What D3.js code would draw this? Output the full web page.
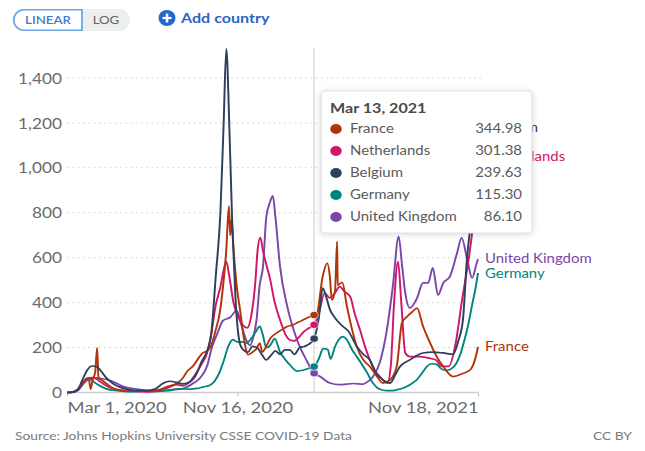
<!DOCTYPE html>
<html><head><meta charset="utf-8">
<script src="https://cdn.jsdelivr.net/npm/d3@7"></script>
<style>
html,body{margin:0;padding:0;background:#fff;overflow:hidden;}
svg{display:block;font-family:Lato,"Noto Sans",sans-serif;}
</style></head><body>
<svg id="chart" width="645" height="451"></svg>
<script>
// ---------- DATA ----------
const categories = ["France","Netherlands","Belgium","Germany","United Kingdom"];
const yTicks = [0,200,400,600,800,1000,1200,1400];
const xTickDates = ["2020-03-01","2020-11-16","2021-11-18"];
const xTickLabels = ["Mar 1, 2020","Nov 16, 2020","Nov 18, 2021"];
const hoverDate = "2021-03-13";
const hoverLabel = "Mar 13, 2021";
const hoverValues = [344.98,301.38,239.63,115.30,86.10];

const france = [["2020-03-01",0],["2020-03-10",3],["2020-03-18",15],["2020-03-25",45],["2020-03-31",62],["2020-04-03",65],["2020-04-06",15],["2020-04-09",55],["2020-04-13",90],["2020-04-16",199],["2020-04-18",68],["2020-04-23",55],["2020-04-30",40],["2020-05-10",20],["2020-05-20",10],["2020-06-01",6],["2020-06-15",6],["2020-07-01",7],["2020-07-15",10],["2020-07-25",15],["2020-08-05",25],["2020-08-15",40],["2020-08-25",65],["2020-08-31",93],["2020-09-10",120],["2020-09-17",150],["2020-09-24",176],["2020-10-01",185],["2020-10-07",210],["2020-10-14",280],["2020-10-20",354],["2020-10-25",471],["2020-10-30",635],["2020-11-03",830],["2020-11-05",700],["2020-11-07",770],["2020-11-10",640],["2020-11-15",471],["2020-11-20",368],["2020-11-27",221],["2020-12-02",168],["2020-12-09",180],["2020-12-15",195],["2020-12-20",220],["2020-12-24",180],["2020-12-29",200],["2021-01-05",240],["2021-01-15",265],["2021-01-23",280],["2021-01-31",294],["2021-02-08",300],["2021-02-15",310],["2021-02-22",320],["2021-03-02",332],["2021-03-07",338],["2021-03-13",345],["2021-03-17",350],["2021-03-26",516],["2021-04-02",576],["2021-04-06",516],["2021-04-09",412],["2021-04-14",456],["2021-04-17",672],["2021-04-18",478],["2021-04-25",490],["2021-05-02",383],["2021-05-10",279],["2021-05-17",205],["2021-05-27",145],["2021-06-06",116],["2021-06-17",71],["2021-06-26",42],["2021-07-07",56],["2021-07-17",116],["2021-07-25",310],["2021-08-02",338],["2021-08-10",360],["2021-08-17",376],["2021-08-26",296],["2021-09-06",220],["2021-09-16",160],["2021-09-26",116],["2021-10-11",71],["2021-10-26",85],["2021-11-06",100],["2021-11-16",176],["2021-11-18",203]];

const netherlands = [["2020-03-01",0],["2020-03-10",2],["2020-03-18",15],["2020-03-25",45],["2020-04-01",62],["2020-04-08",66],["2020-04-15",60],["2020-04-22",45],["2020-04-30",30],["2020-05-10",17],["2020-05-20",12],["2020-06-01",9],["2020-06-15",5],["2020-07-01",3],["2020-07-15",5],["2020-07-25",18],["2020-08-05",30],["2020-08-15",35],["2020-08-25",30],["2020-09-05",50],["2020-09-15",90],["2020-09-22",125],["2020-09-30",170],["2020-10-07",260],["2020-10-14",390],["2020-10-21",470],["2020-10-26",545],["2020-10-30",583],["2020-11-04",510],["2020-11-10",400],["2020-11-17",338],["2020-11-24",300],["2020-12-01",288],["2020-12-07",340],["2020-12-13",480],["2020-12-17",640],["2020-12-21",690],["2020-12-25",630],["2020-12-31",560],["2021-01-04",516],["2021-01-12",400],["2021-01-20",323],["2021-01-28",260],["2021-02-04",234],["2021-02-11",230],["2021-02-19",250],["2021-02-25",270],["2021-03-04",285],["2021-03-13",301],["2021-03-20",350],["2021-03-29",443],["2021-04-06",421],["2021-04-13",440],["2021-04-21",471],["2021-04-28",450],["2021-05-07",427],["2021-05-14",350],["2021-05-22",279],["2021-05-29",210],["2021-06-06",145],["2021-06-13",100],["2021-06-21",71],["2021-07-03",42],["2021-07-08",120],["2021-07-13",400],["2021-07-19",583],["2021-07-24",400],["2021-07-30",176],["2021-08-06",160],["2021-08-20",160],["2021-09-01",155],["2021-09-15",145],["2021-09-24",116],["2021-10-04",116],["2021-10-15",220],["2021-10-24",398],["2021-11-05",620],["2021-11-09",710],["2021-11-18",1050]];

const belgium = [["2020-03-01",0],["2020-03-10",2],["2020-03-18",15],["2020-03-25",60],["2020-04-01",100],["2020-04-08",118],["2020-04-15",115],["2020-04-22",95],["2020-04-30",65],["2020-05-10",40],["2020-05-20",25],["2020-06-01",15],["2020-06-15",9],["2020-07-01",8],["2020-07-15",18],["2020-07-25",40],["2020-08-05",50],["2020-08-15",45],["2020-08-25",38],["2020-09-05",48],["2020-09-15",85],["2020-09-22",135],["2020-09-30",180],["2020-10-07",260],["2020-10-14",520],["2020-10-21",800],["2020-10-26",1200],["2020-10-30",1530],["2020-11-04",1150],["2020-11-08",760],["2020-11-13",420],["2020-11-20",215],["2020-11-25",190],["2020-12-02",180],["2020-12-09",205],["2020-12-16",200],["2020-12-23",170],["2020-12-30",145],["2021-01-06",165],["2021-01-13",185],["2021-01-20",170],["2021-01-27",190],["2021-02-04",190],["2021-02-11",170],["2021-02-19",200],["2021-02-26",205],["2021-03-05",215],["2021-03-13",240],["2021-03-20",330],["2021-03-26",465],["2021-04-01",420],["2021-04-06",370],["2021-04-12",340],["2021-04-17",320],["2021-04-26",294],["2021-05-05",270],["2021-05-17",205],["2021-05-27",170],["2021-06-06",145],["2021-06-15",90],["2021-06-26",56],["2021-07-07",42],["2021-07-15",80],["2021-07-22",116],["2021-08-06",145],["2021-08-26",176],["2021-09-10",180],["2021-09-26",176],["2021-10-11",170],["2021-10-19",230],["2021-10-26",323],["2021-11-01",590],["2021-11-09",800],["2021-11-14",960],["2021-11-18",1180]];

const germany = [["2020-03-01",0],["2020-03-10",1],["2020-03-18",15],["2020-03-25",45],["2020-04-01",62],["2020-04-06",58],["2020-04-12",45],["2020-04-20",30],["2020-04-30",16],["2020-05-10",10],["2020-05-20",7],["2020-06-01",4],["2020-06-15",4],["2020-06-22",6],["2020-07-01",5],["2020-07-15",5],["2020-08-01",8],["2020-08-15",14],["2020-08-25",16],["2020-09-05",15],["2020-09-15",18],["2020-09-25",25],["2020-10-05",32],["2020-10-12",50],["2020-10-19",85],["2020-10-26",140],["2020-11-02",205],["2020-11-09",235],["2020-11-16",225],["2020-11-23",225],["2020-11-30",220],["2020-12-07",240],["2020-12-14",270],["2020-12-20",294],["2020-12-24",265],["2020-12-30",200],["2021-01-05",210],["2021-01-12",240],["2021-01-20",180],["2021-01-27",150],["2021-02-05",120],["2021-02-15",95],["2021-02-25",100],["2021-03-07",110],["2021-03-13",115],["2021-03-20",150],["2021-03-27",195],["2021-04-03",190],["2021-04-07",150],["2021-04-14",205],["2021-04-21",240],["2021-04-26",249],["2021-05-02",235],["2021-05-10",190],["2021-05-17",160],["2021-06-02",87],["2021-06-10",45],["2021-06-17",22],["2021-06-25",11],["2021-07-03",8],["2021-07-10",8],["2021-07-17",12],["2021-07-25",18],["2021-08-02",28],["2021-08-10",42],["2021-08-17",58],["2021-08-25",88],["2021-09-01",116],["2021-09-08",128],["2021-09-16",125],["2021-09-23",105],["2021-10-01",98],["2021-10-08",105],["2021-10-16",130],["2021-10-22",170],["2021-10-28",230],["2021-11-03",300],["2021-11-09",390],["2021-11-14",460],["2021-11-18",532]];

const unitedKingdom = [["2020-03-01",0],["2020-03-10",2],["2020-03-18",10],["2020-03-25",35],["2020-04-01",55],["2020-04-08",62],["2020-04-15",65],["2020-04-22",62],["2020-04-30",58],["2020-05-07",52],["2020-05-15",42],["2020-05-25",28],["2020-06-05",20],["2020-06-15",15],["2020-07-01",10],["2020-07-15",9],["2020-08-01",11],["2020-08-15",15],["2020-08-25",18],["2020-09-09",40],["2020-09-20",65],["2020-10-01",120],["2020-10-08",200],["2020-10-16",260],["2020-10-25",320],["2020-11-05",335],["2020-11-15",365],["2020-11-22",300],["2020-11-30",230],["2020-12-05",210],["2020-12-10",245],["2020-12-15",320],["2020-12-20",480],["2020-12-25",560],["2020-12-30",780],["2021-01-05",850],["2021-01-09",875],["2021-01-13",780],["2021-01-20",560],["2021-01-31",383],["2021-02-15",234],["2021-03-02",140],["2021-03-11",93],["2021-03-13",86],["2021-03-22",71],["2021-04-06",42],["2021-04-21",35],["2021-05-12",40],["2021-05-27",37],["2021-06-01",45],["2021-06-11",71],["2021-06-21",132],["2021-07-02",279],["2021-07-11",471],["2021-07-20",694],["2021-07-25",570],["2021-07-30",443],["2021-08-06",376],["2021-08-17",420],["2021-08-26",488],["2021-09-03",488],["2021-09-10",555],["2021-09-18",434],["2021-09-26",488],["2021-10-06",516],["2021-10-17",620],["2021-10-24",688],["2021-11-01",600],["2021-11-09",510],["2021-11-16",576],["2021-11-18",594]];

const seriesData = [france, netherlands, belgium, germany, unitedKingdom];
const colors = ["#b13507","#d1166a","#2f3f5e","#00847e","#7a46aa"];
const drawOrder = [4,3,1,0,2];

// ---------- LAYOUT ----------
const W = 645, H = 451, S = 1.15;           // picture is horizontally stretched
const X = v => v / S;                          // screen px -> viewBox units
const parse = d3.utcParse("%Y-%m-%d");

const svg = d3.select("#chart")
  .attr("viewBox", `0 0 ${W / S} ${H}`)
  .attr("preserveAspectRatio", "none");

const x = d3.scaleUtc()
  .domain([parse(xTickDates[0]), parse(xTickDates[xTickDates.length - 1])])
  .range([X(67), X(478)]);
const y = d3.scaleLinear().domain([0, 1400]).range([392.5, 78]);

// gridlines
const grid = svg.append("g");
yTicks.filter(t => t > 0).forEach(t => {
  grid.append("line")
    .attr("x1", X(67)).attr("x2", X(481))
    .attr("y1", y(t)).attr("y2", y(t))
    .attr("stroke", "#d6d6d6").attr("stroke-width", 1)
    .attr("stroke-dasharray", "1.6,3");
});

// y axis labels
const yAxis = d3.axisLeft(y).tickValues(yTicks).tickSize(0).tickFormat(d3.format(","));
const yg = svg.append("g").attr("transform", `translate(${X(62)},0)`).call(yAxis);
yg.select(".domain").remove();
yg.selectAll("text").attr("font-size", 15).attr("fill", "#6b6b6b")
  .attr("font-family", "Lato, sans-serif").attr("x", 0).attr("dy", "0.34em");

// x axis
svg.append("line").attr("x1", X(67)).attr("x2", X(478))
  .attr("y1", 392.5).attr("y2", 392.5).attr("stroke", "#cfcfcf").attr("stroke-width", 1.5);
const xAxis = d3.axisBottom(x).tickValues(xTickDates.map(parse)).tickSize(4)
  .tickFormat((d, i) => xTickLabels[i]);
const xg = svg.append("g").attr("transform", "translate(0,392.5)").call(xAxis);
xg.select(".domain").remove();
xg.selectAll(".tick line").attr("stroke", "#c4c4c4");
xg.selectAll("text").attr("font-size", 16).attr("fill", "#6b6b6b")
  .attr("font-family", "Lato, sans-serif").attr("y", 9).attr("dy", "0.75em")
  .attr("text-anchor", (d, i) => i === 0 ? "start" : (i === xTickDates.length - 1 ? "end" : "middle"));

// hover line
const hx = x(parse(hoverDate));
svg.append("line").attr("x1", hx).attr("x2", hx).attr("y1", 48).attr("y2", 392.5)
  .attr("stroke", "#d9d9d9").attr("stroke-width", 1.2);

// lines
const line = d3.line().x(d => x(parse(d[0]))).y(d => y(d[1])).curve(d3.curveMonotoneX);
drawOrder.forEach(i => {
  svg.append("path").datum(seriesData[i]).attr("d", line)
    .attr("fill", "none").attr("stroke", colors[i]).attr("stroke-width", 1.7)
    .attr("stroke-linejoin", "round");
});

// hover dots
drawOrder.forEach(i => {
  svg.append("circle").attr("cx", hx).attr("cy", y(hoverValues[i])).attr("r", 3.6)
    .attr("fill", colors[i]).attr("stroke", "#fff").attr("stroke-width", 0.6);
});

// end labels with simple collision avoidance
const labels = categories.map((c, i) => {
  const last = seriesData[i][seriesData[i].length - 1];
  return { name: c, i, yv: y(last[1]) };
}).sort((a, b) => a.yv - b.yv);
for (let k = 1; k < labels.length; k++) {
  if (labels[k].yv - labels[k - 1].yv < 15) {
    const shift = (15 - (labels[k].yv - labels[k - 1].yv)) / 2;
    labels[k - 1].yv -= shift;
    labels[k].yv += shift;
  }
}
labels.forEach(l => {
  svg.append("text").attr("x", X(485)).attr("y", l.yv).attr("dy", "0.34em")
    .attr("font-size", 13).attr("fill", colors[l.i]).text(l.name);
});

// tooltip
const tip = svg.append("g");
tip.append("rect").attr("x", X(321)).attr("y", 91).attr("width", X(211)).attr("height", 142)
  .attr("rx", X(4)).attr("ry", 4).attr("fill", "#fff").attr("stroke", "#e2e2e2")
  .style("filter", "drop-shadow(0px 1px 3px rgba(0,0,0,0.15))");
tip.append("text").attr("x", X(330)).attr("y", 113).attr("font-size", 14)
  .attr("font-weight", 700).attr("fill", "#4a4a4a").text(hoverLabel);
categories.forEach((c, i) => {
  const cy = 129 + i * 22;
  tip.append("circle").attr("cx", X(336)).attr("cy", cy).attr("r", 5).attr("fill", colors[i]);
  tip.append("text").attr("x", X(350)).attr("y", cy).attr("dy", "0.34em")
    .attr("font-size", 13).attr("fill", "#5a5a5a").text(c);
  tip.append("text").attr("x", X(522)).attr("y", cy).attr("dy", "0.34em")
    .attr("text-anchor", "end").attr("font-size", 13).attr("fill", "#5a5a5a")
    .text(d3.format(".2f")(hoverValues[i]));
});

// top controls
svg.append("rect").attr("x", X(13)).attr("y", 9).attr("width", X(117)).attr("height", 22)
  .attr("rx", X(11)).attr("ry", 11).attr("fill", "#eeeeee");
svg.append("path")
  .attr("d", `M${X(82)},9.75 L${X(24)},9.75 A${X(10.25)},10.25 0 0 0 ${X(24)},30.25 L${X(82)},30.25 Z`)
  .attr("fill", "#fff").attr("stroke", "#6aa5e6").attr("stroke-width", 1.5);
svg.append("text").attr("x", X(48)).attr("y", 24.2).attr("text-anchor", "middle")
  .attr("font-size", 11.5).attr("font-weight", 600).attr("fill", "#3f7ccc").text("LINEAR");
svg.append("text").attr("x", X(106)).attr("y", 24.2).attr("text-anchor", "middle")
  .attr("font-size", 11.5).attr("fill", "#666").text("LOG");
svg.append("ellipse").attr("cx", X(167)).attr("cy", 18).attr("rx", X(8.5)).attr("ry", 8)
  .attr("fill", "#2468cc");
svg.append("line").attr("x1", X(162.5)).attr("x2", X(171.5)).attr("y1", 18).attr("y2", 18)
  .attr("stroke", "#fff").attr("stroke-width", 2.2);
svg.append("line").attr("x1", X(167)).attr("x2", X(167)).attr("y1", 13.5).attr("y2", 22.5)
  .attr("stroke", "#fff").attr("stroke-width", 2.2);
svg.append("text").attr("x", X(181)).attr("y", 23).attr("font-size", 14)
  .attr("font-weight", 700).attr("fill", "#2a66c6").text("Add country");

// footer
svg.append("text").attr("x", X(15)).attr("y", 440).attr("font-size", 12)
  .attr("fill", "#7a7a7a").text("Source: Johns Hopkins University CSSE COVID-19 Data");
svg.append("text").attr("x", X(632)).attr("y", 440).attr("font-size", 12)
  .attr("text-anchor", "end").attr("fill", "#7a7a7a").text("CC BY");
</script>
</body></html>
